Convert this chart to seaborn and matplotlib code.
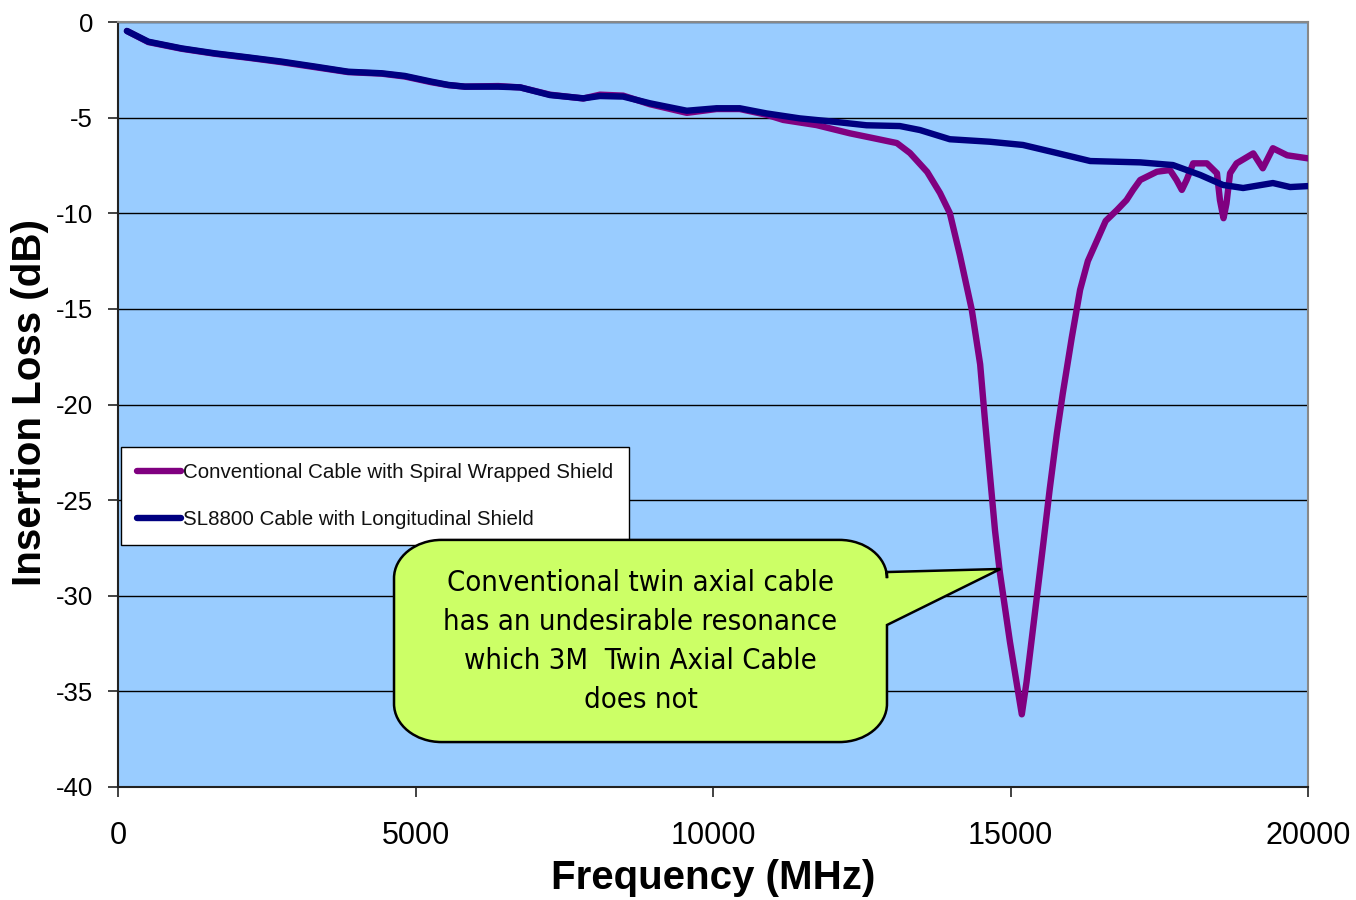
import matplotlib
matplotlib.use("Agg")
import matplotlib.pyplot as plt
import seaborn as sns
from matplotlib.path import Path
from matplotlib.patches import PathPatch
from matplotlib import font_manager

# ---------------- data ----------------
sl_freq = [150, 510, 1070, 1630, 2190, 2750, 3310, 3870, 4430, 4820, 5270, 5550,
           5830, 6390, 6760, 7260, 7820, 8100, 8490, 8940, 9560, 10060, 10450,
           10900, 11460, 12020, 12580, 13140, 13480, 13980, 14650, 15210, 15780,
           16340, 17180, 17730, 18190, 18570, 18910, 19410, 19700, 20000]
sl_loss = [-0.47, -1.03, -1.38, -1.64, -1.85, -2.07, -2.33, -2.6, -2.68, -2.82,
           -3.12, -3.29, -3.38, -3.38, -3.42, -3.82, -3.99, -3.87, -3.9, -4.25,
           -4.64, -4.51, -4.51, -4.78, -5.04, -5.21, -5.4, -5.44, -5.65, -6.13,
           -6.26, -6.43, -6.85, -7.27, -7.34, -7.48, -8.0, -8.52, -8.68, -8.42,
           -8.63, -8.58]

conv_freq = [150, 510, 1070, 1630, 2190, 2750, 3310, 3870, 4430, 4820, 5270, 5550,
             5830, 6390, 6760, 7260, 7820, 8100, 8490, 8940, 9560, 10060, 10450,
             10900, 11180, 11740, 12300, 12690, 13090, 13310, 13600, 13815, 13980,
             14150, 14350, 14490, 14570, 14655, 14740, 14820, 14990, 15100, 15190,
             15270, 15410, 15550, 15660, 15780, 15880, 16030, 16170, 16300, 16600,
             16790, 16950, 17060, 17180, 17460, 17680, 17790, 17880, 17960, 18070,
             18300, 18470, 18520, 18580, 18630, 18690, 18800, 19080, 19240, 19410,
             19650, 20000]
conv_loss = [-0.47, -1.05, -1.4, -1.66, -1.87, -2.1, -2.36, -2.62, -2.7, -2.85,
             -3.15, -3.3, -3.38, -3.35, -3.42, -3.8, -4.0, -3.8, -3.85, -4.3,
             -4.75, -4.55, -4.55, -4.85, -5.12, -5.39, -5.82, -6.07, -6.33, -6.85,
             -7.84, -8.94, -9.99, -12.2, -15.06, -17.9, -20.8, -23.7, -26.6,
             -28.76, -32.4, -34.5, -36.2, -34.5, -30.9, -27.3, -24.4, -21.5,
             -19.4, -16.5, -14.0, -12.5, -10.4, -9.83, -9.31, -8.78, -8.26,
             -7.83, -7.74, -8.26, -8.78, -8.26, -7.39, -7.39, -7.91, -9.31,
             -10.26, -9.49, -7.91, -7.39, -6.87, -7.65, -6.6, -6.97, -7.13]

conv_label = "Conventional Cable with Spiral Wrapped Shield"
sl_label = "SL8800 Cable with Longitudinal Shield"
x_ticks = [0, 5000, 10000, 15000, 20000]
y_ticks = [0, -5, -10, -15, -20, -25, -30, -35, -40]
x_title = "Frequency (MHz)"
y_title = "Insertion Loss (dB)"
callout_text = ("Conventional twin axial cable\nhas an undesirable resonance\n"
                "which 3M  Twin Axial Cable\ndoes not")
callout_target = (14830, -28.6)

# ---------------- style ----------------
sns.set_style("ticks")
plt.rcParams['font.family'] = ['Liberation Sans', 'DejaVu Sans']
plt.rcParams['axes.unicode_minus'] = False
plt.rcParams['text.color'] = 'black'
plt.rcParams['axes.labelcolor'] = 'black'
plt.rcParams['xtick.color'] = 'black'
plt.rcParams['ytick.color'] = 'black'

# pick a narrow face for the callout if one is installed
fl = font_manager.fontManager.ttflist
names = {f.name for f in fl}
callout_kw = dict(family=['Liberation Sans', 'DejaVu Sans'], fontsize=21)
if 'Liberation Sans Narrow' in names:
    callout_kw = dict(family=['Liberation Sans Narrow', 'DejaVu Sans'], fontsize=22)
elif any(f.name == 'DejaVu Sans' and f.stretch == 'condensed' for f in fl):
    callout_kw = dict(family=['DejaVu Sans'], fontstretch='condensed', fontsize=21)

fig = plt.figure(figsize=(13.56, 9), dpi=100)
fig.patch.set_facecolor('white')
ax = fig.add_axes([118 / 1356, 1 - 787 / 900, 1190 / 1356, 765 / 900])
ax.set_facecolor('#99CCFF')

sns.lineplot(x=conv_freq, y=conv_loss, color='#800080', linewidth=4.6,
             label=conv_label, ax=ax, estimator=None, sort=False,
             solid_capstyle='round', solid_joinstyle='round', zorder=3)
sns.lineplot(x=sl_freq, y=sl_loss, color='#000080', linewidth=4.6,
             label=sl_label, ax=ax, estimator=None, sort=False,
             solid_capstyle='round', solid_joinstyle='round', zorder=4)

ax.set_xlim(0, 20000)
ax.set_ylim(-40, 0)
ax.set_xticks(x_ticks)
ax.set_xticklabels([str(v) for v in x_ticks])
ax.set_yticks(y_ticks)
ax.set_yticklabels([str(v) for v in y_ticks])
ax.grid(axis='y', color='black', linewidth=1.0)
ax.grid(axis='x', visible=False)
ax.set_axisbelow(True)

ax.tick_params(axis='x', direction='out', length=7.5, width=1.2, color='#222222',
               labelcolor='black', labelsize=22, pad=17)
ax.tick_params(axis='y', direction='out', length=7.5, width=1.2, color='#222222',
               labelcolor='black', labelsize=18.5, pad=10.5)

for side in ['left', 'bottom']:
    ax.spines[side].set_color('#222222')
    ax.spines[side].set_linewidth(1.5)
for side in ['top', 'right']:
    ax.spines[side].set_color('#888888')
    ax.spines[side].set_linewidth(1.5)

ax.set_xlabel(x_title, fontsize=29, fontweight='bold', va='center', color='black')
ax.xaxis.set_label_coords(0.5, (787 - 878) / 765)
ax.set_ylabel(y_title, fontsize=29, fontweight='bold', va='center', color='black')
ax.yaxis.set_label_coords((30 - 118) / 1190, (787 - 403) / 765)

leg = ax.legend(loc='lower left', bbox_to_anchor=(0.0025, 0.316),
                borderaxespad=0, fontsize=14.8, frameon=True, fancybox=False,
                framealpha=1, edgecolor='black', facecolor='white',
                handlelength=2.1, handletextpad=0.1, labelspacing=1.35,
                borderpad=0.8)
leg.get_frame().set_linewidth(1.0)
for line in leg.get_lines():
    line.set_linewidth(4.6)
for t in leg.get_texts():
    t.set_color('#111111')
leg.set_zorder(5)

# ---------------- callout (speech bubble) ----------------
bx0, bx1 = 4639, 12924
by0, by1 = -37.65, -27.08
rx, ry = 800, 2.0
ptop, pbot = -28.76, -31.53
tx, ty = callout_target
k = 0.5523
verts = [
    (bx0 + rx, by1),
    (bx1 - rx, by1),
    (bx1 - rx + k * rx, by1), (bx1, by1 - ry + k * ry), (bx1, by1 - ry),
    (bx1, ptop),
    (tx, ty),
    (bx1, pbot),
    (bx1, by0 + ry),
    (bx1, by0 + ry - k * ry), (bx1 - rx + k * rx, by0), (bx1 - rx, by0),
    (bx0 + rx, by0),
    (bx0 + rx - k * rx, by0), (bx0, by0 + ry - k * ry), (bx0, by0 + ry),
    (bx0, by1 - ry),
    (bx0, by1 - ry + k * ry), (bx0 + rx - k * rx, by1), (bx0 + rx, by1),
    (bx0 + rx, by1),
]
codes = [Path.MOVETO, Path.LINETO,
         Path.CURVE4, Path.CURVE4, Path.CURVE4,
         Path.LINETO, Path.LINETO, Path.LINETO, Path.LINETO,
         Path.CURVE4, Path.CURVE4, Path.CURVE4,
         Path.LINETO,
         Path.CURVE4, Path.CURVE4, Path.CURVE4,
         Path.LINETO,
         Path.CURVE4, Path.CURVE4, Path.CURVE4,
         Path.CLOSEPOLY]
bubble = PathPatch(Path(verts, codes), facecolor='#CCFF66', edgecolor='black',
                   linewidth=1.8, joinstyle='miter', zorder=6)
ax.add_patch(bubble)
ax.text((bx0 + bx1) / 2, -32.4, callout_text, ha='center', va='center',
        linespacing=1.5, color='black', zorder=7, **callout_kw)

fig.savefig('out.png', dpi=100)
